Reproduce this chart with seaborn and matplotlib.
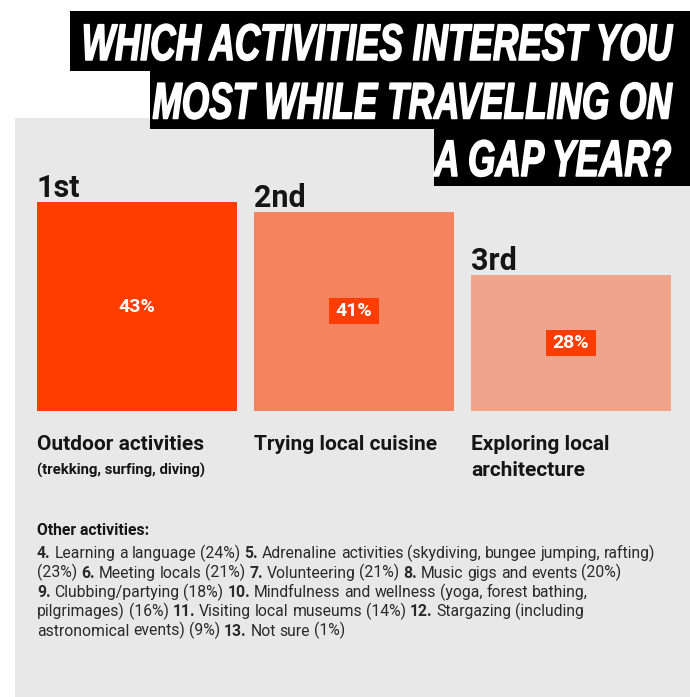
import textwrap

import matplotlib
matplotlib.use("Agg")
import matplotlib.pyplot as plt
import matplotlib.patheffects as pe
from matplotlib.patches import Rectangle
from matplotlib.path import Path
from matplotlib.transforms import Affine2D
from matplotlib.font_manager import FontProperties
import pandas as pd
import seaborn as sns

# ---- data -------------------------------------------------------------
title_lines = ["WHICH ACTIVITIES INTEREST YOU", "MOST WHILE TRAVELLING ON", "A GAP YEAR?"]

ranks = ["1st", "2nd", "3rd"]
top_activities = ["Outdoor activities", "Trying local cuisine", "Exploring local architecture"]
top_details = ["(trekking, surfing, diving)", "", ""]
top_pcts = [43, 41, 28]
bar_colors = ["#ff3d00", "#f5835e", "#f0a48c"]

other_heading = "Other activities:"
other_ranks = [4, 5, 6, 7, 8, 9, 10, 11, 12, 13]
other_names = [
    "Learning a language",
    "Adrenaline activities (skydiving, bungee jumping, rafting)",
    "Meeting locals",
    "Volunteering",
    "Music gigs and events",
    "Clubbing/partying",
    "Mindfulness and wellness (yoga, forest bathing, pilgrimages)",
    "Visiting local museums",
    "Stargazing (including astronomical events)",
    "Not sure",
]
other_pcts = [24, 23, 21, 21, 20, 18, 16, 14, 9, 1]

# ---- figure helpers ---------------------------------------------------
W, H = 690, 697
fig = plt.figure(figsize=(W / 100, H / 100), dpi=100)
fig.patch.set_facecolor("white")
renderer = fig.canvas.get_renderer()


def fx(x):
    return x / W


def fy(y):
    return 1 - y / H


def text_width(s, fp):
    return renderer.get_text_width_height_descent(s, fp, ismath=False)[0]


class VStretch(pe.AbstractPathEffect):
    """Stretch glyph outlines vertically about the baseline and embolden them."""

    def __init__(self, sy, lw=0.0):
        super().__init__()
        self._sy = sy
        self._lw = lw

    def draw_path(self, renderer, gc, tpath, affine, rgbFace=None):
        x0, y0 = affine.transform((0, 0))
        stretch = Affine2D().translate(-x0, -y0).scale(1, self._sy).translate(x0, y0)
        gc0 = renderer.new_gc()
        gc0.copy_properties(gc)
        if self._lw and rgbFace is not None:
            gc0.set_linewidth(self._lw)
            gc0.set_foreground(rgbFace)
        renderer.draw_path(gc0, tpath, affine + stretch, rgbFace)
        gc0.restore()


def label_box(x0, y0, width, height, mutation_size):
    """Rectangle with more side padding than top/bottom padding."""
    px, py = 0.36 * mutation_size, 0.2 * mutation_size
    xa, xb = x0 - px, x0 + width + px
    ya, yb = y0 - py, y0 + height + py
    return Path([(xa, ya), (xb, ya), (xb, yb), (xa, yb), (xa, ya)],
                [Path.MOVETO, Path.LINETO, Path.LINETO, Path.LINETO, Path.CLOSEPOLY])


body = ["Roboto", "DejaVu Sans"]
title_family = ["Liberation Sans Narrow", "Liberation Sans", "DejaVu Sans"]
ink = "#151515"

# light grey panel behind the chart
fig.add_artist(Rectangle((fx(15), 0), 1 - fx(15), fy(117.5), transform=fig.transFigure,
                         fc="#e8e8e8", ec="none", zorder=-10))

# ---- title: stepped black boxes ---------------------------------------
boxes = [(69.5, 11, 70.5), (149.5, 70, 128.5), (434.5, 128, 186)]
for x0, y0, y1 in boxes:
    fig.add_artist(Rectangle((fx(x0), fy(y1)), 1 - fx(x0), fy(y0) - fy(y1),
                             transform=fig.transFigure, fc="black", ec="none", zorder=5))

fp_title = FontProperties(family=title_family, weight="bold", style="italic", size=10)
w10, h10, _ = renderer.get_text_width_height_descent(title_lines[0], fp_title, ismath=False)
title_size = 10 * 590 / w10
cap_px = h10 * 590 / w10
stretch = 37 / cap_px
for line, base in zip(title_lines, [60, 118.5, 176]):
    fig.text(fx(671), fy(base), line, ha="right", va="baseline", color="white",
             family=title_family, fontweight="bold", fontstyle="italic", fontsize=title_size,
             path_effects=[VStretch(stretch, lw=1.1)], zorder=6)

# ---- bars --------------------------------------------------------------
ax = fig.add_axes([fx(37), fy(411), fx(671) - fx(37), fy(202) - fy(411)])
ax.set_facecolor("none")
df = pd.DataFrame({"activity": top_activities, "pct": top_pcts})
sns.barplot(data=df, x="activity", y="pct", hue="activity", palette=bar_colors,
            saturation=1, width=0.92, linewidth=0, legend=False, ax=ax)
ax.set_xlim(-0.46, 2.46)
ax.set_ylim(0, 43)
ax.set_axis_off()

for i, (rank, name, detail, pct) in enumerate(zip(ranks, top_activities, top_details, top_pcts)):
    left = i - 0.46
    ax.annotate(rank, xy=(left, pct), xytext=(0, 3.4), textcoords="offset points",
                ha="left", va="baseline", fontsize=22, fontweight="bold", family=body,
                color=ink, annotation_clip=False)
    ax.text(i, pct / 2, f"{pct}%", ha="center", va="center", color="white",
            fontsize=14, fontweight="bold", family=body,
            bbox=dict(boxstyle=label_box, fc=bar_colors[0], ec="none"))
    for k, part in enumerate(textwrap.wrap(name, 20)):
        ax.annotate(part, xy=(left, 0), xytext=(0, -28.1 - 18.7 * k),
                    textcoords="offset points", ha="left", va="baseline", fontsize=15,
                    fontweight="bold", family=body, color=ink, annotation_clip=False)
    if detail:
        ax.annotate(detail, xy=(left, 0), xytext=(0, -45.7), textcoords="offset points",
                    ha="left", va="baseline", fontsize=10.7, fontweight="bold",
                    family=body, color=ink, annotation_clip=False)

# ---- other activities paragraph ----------------------------------------
fig.text(fx(37), fy(535), other_heading, ha="left", va="baseline", fontsize=11.3,
         fontweight="bold", family=body, color=ink)

body_size = 11.3
fp_reg = FontProperties(family=body, size=body_size)
fp_bold = FontProperties(family=body, size=body_size, weight="bold")
space = text_width("n n", fp_reg) - text_width("nn", fp_reg)

# unbreakable groups: a rank number stays with the first word after it
units = []
for r, name, p in zip(other_ranks, other_names, other_pcts):
    words = f"{name} ({p}%)".split()
    units.append([(f"{r}.", fp_bold), (words[0], fp_reg)])
    units.extend([[(w, fp_reg)] for w in words[1:]])

max_w = 624
lines, cur, cur_w = [], [], 0.0
for unit in units:
    uw = sum(text_width(s, fp) for s, fp in unit) + space * (len(unit) - 1)
    add = uw if not cur else uw + space
    if cur and cur_w + add > max_w:
        lines.append(cur)
        cur, cur_w = [], 0.0
        add = uw
    cur.extend(unit)
    cur_w += add
if cur:
    lines.append(cur)

for k, line in enumerate(lines):
    x = 37.0
    base = 558.3 + 19.3 * k
    for s, fp in line:
        fig.text(fx(x), fy(base), s, ha="left", va="baseline", fontproperties=fp,
                 color="#2a2a2a")
        x += text_width(s, fp) + space

fig.savefig("out.png", dpi=100)
